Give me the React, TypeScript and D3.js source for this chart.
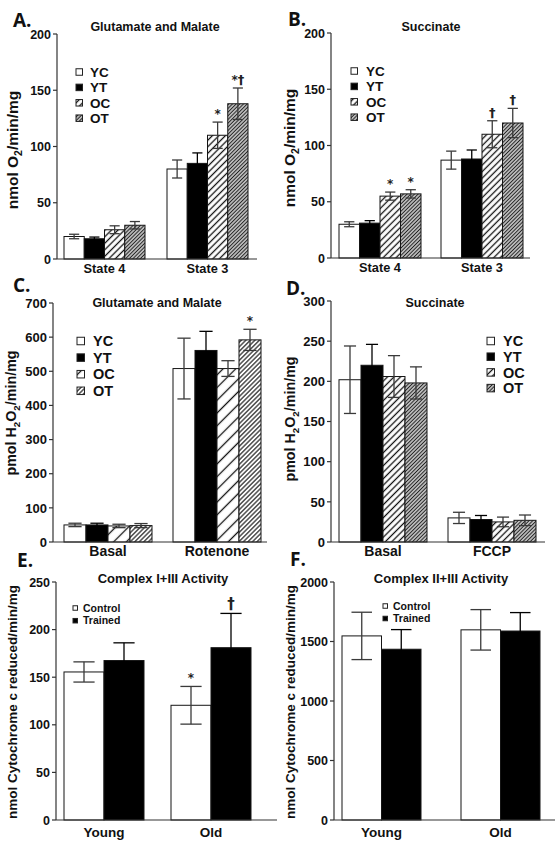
import React from "react";
import * as d3 from "d3";

// ---------- data ----------
const seriesFour = ["YC", "YT", "OC", "OT"];
const seriesTwo = ["Control", "Trained"];

const aGroups = ["State 4", "State 3"];
const aMean = [[20, 18, 26, 30], [80, 85, 110, 138]];
const aErr = [[2, 1.5, 3.5, 3.3], [8, 9.3, 11.7, 14]];
const aMarks = [["", "", "", ""], ["", "", "*", "*†"]];

const bGroups = ["State 4", "State 3"];
const bMean = [[30, 31, 55, 57], [87, 88, 110, 120]];
const bErr = [[2.2, 2.2, 3.6, 3.7], [8, 8, 12, 13]];
const bMarks = [["", "", "*", "*"], ["", "", "†", "†"]];

const cGroups = ["Basal", "Rotenone"];
const cMean = [[50, 50, 47, 48], [508, 561, 508, 592]];
const cErr = [[5, 5, 5, 6], [89, 56, 23, 31]];
const cMarks = [["", "", "", ""], ["", "", "", "*"]];

const dGroups = ["Basal", "FCCP"];
const dMean = [[202, 220, 206, 198], [30, 28, 25, 27]];
const dErr = [[42, 26, 26, 20], [7, 5, 6, 6.6]];
const dMarks = [["", "", "", ""], ["", "", "", ""]];

const eGroups = ["Young", "Old"];
const eMean = [[155.5, 167.5], [120.5, 181]];
const eErr = [[10.6, 18.6], [19.8, 36]];
const eMarks = [["", ""], ["*", "†"]];

const fGroups = ["Young", "Old"];
const fMean = [[1547, 1435], [1598, 1588]];
const fErr = [[199, 165], [170, 155]];
const fMarks = [["", ""], ["", ""]];

const yTicksA = [0, 50, 100, 150, 200];
const yTicksC = [0, 100, 200, 300, 400, 500, 600, 700];
const yTicksD = [0, 50, 100, 150, 200, 250, 300];
const yTicksE = [0, 50, 100, 150, 200, 250];
const yTicksF = [0, 500, 1000, 1500, 2000];

type Seg = [string, boolean];
const labelO2: Seg[] = [["nmol O", false], ["2", true], ["/min/mg", false]];
const labelH2O2: Seg[] = [["pmol H", false], ["2", true], ["O", false], ["2", true], ["/min/mg", false]];
const labelCyt: Seg[] = [["nmol Cytochrome c reduced/min/mg", false]];

const fillsFour = ["#ffffff", "#000000", "url(#pOC)", "url(#pOT)"];
const fillsFourC = ["#ffffff", "#000000", "url(#pOCw)", "url(#pOTc)"];
const fillsTwo = ["#ffffff", "#000000"];

const FONT = "'Liberation Sans', Arial, Helvetica, sans-serif";

type Panel = {
  letter: string; lx: number; ly: number;
  title: string; tx: number; ty: number; tSize: number;
  yLabel: Seg[]; ylx: number; yly: number; ylSize: number;
  axisX: number; xEnd: number; y0: number; yTop: number; yMax: number; ticks: number[]; tickSize: number;
  band: [number, number]; groupW: number; groups: string[]; series: string[];
  mean: number[][]; err: number[][]; marks: string[][]; fills: string[];
  gDy: number; gSize: number; markSize: number;
  leg: { x: number; y: number; dy: number; size: number; tx: number; fs: number };
  capFrac: number;
};

const panels: Panel[] = [
  {
    letter: "A.", lx: 13, ly: 27, title: "Glutamate and Malate", tx: 155, ty: 31, tSize: 12.5,
    yLabel: labelO2, ylx: 18, yly: 150, ylSize: 15.5,
    axisX: 57, xEnd: 257, y0: 259, yTop: 34, yMax: 200, ticks: yTicksA, tickSize: 12.5,
    band: [64, 248], groupW: 81, groups: aGroups, series: seriesFour, mean: aMean, err: aErr, marks: aMarks, fills: fillsFour,
    gDy: 13.5, gSize: 12.8, markSize: 13, leg: { x: 76, y: 72, dy: 15.4, size: 6.5, tx: 90, fs: 13.5 }, capFrac: 0.5,
  },
  {
    letter: "B.", lx: 288, ly: 26, title: "Succinate", tx: 431, ty: 30.5, tSize: 12.5,
    yLabel: labelO2, ylx: 295, yly: 148, ylSize: 15.5,
    axisX: 331, xEnd: 530, y0: 258, yTop: 33, yMax: 200, ticks: yTicksA, tickSize: 12.5,
    band: [339, 523], groupW: 82, groups: bGroups, series: seriesFour, mean: bMean, err: bErr, marks: bMarks, fills: fillsFour,
    gDy: 13.5, gSize: 12.8, markSize: 13, leg: { x: 351, y: 71, dy: 15.4, size: 6.5, tx: 366, fs: 13.5 }, capFrac: 0.5,
  },
  {
    letter: "C.", lx: 13, ly: 292, title: "Glutamate and Malate", tx: 157, ty: 307, tSize: 12.5,
    yLabel: labelH2O2, ylx: 16, yly: 413, ylSize: 14.3,
    axisX: 53, xEnd: 267, y0: 542, yTop: 303, yMax: 700, ticks: yTicksC, tickSize: 13,
    band: [64, 261], groupW: 88, groups: cGroups, series: seriesFour, mean: cMean, err: cErr, marks: cMarks, fills: fillsFourC,
    gDy: 13.5, gSize: 14, markSize: 12, leg: { x: 77, y: 341, dy: 16.6, size: 7.5, tx: 93, fs: 14.5 }, capFrac: 0.6,
  },
  {
    letter: "D.", lx: 286, ly: 295, title: "Succinate", tx: 435, ty: 307, tSize: 12.5,
    yLabel: labelH2O2, ylx: 295, yly: 419, ylSize: 14.3,
    axisX: 331, xEnd: 545, y0: 542, yTop: 301, yMax: 300, ticks: yTicksD, tickSize: 13,
    band: [339, 536], groupW: 88, groups: dGroups, series: seriesFour, mean: dMean, err: dErr, marks: dMarks, fills: fillsFour,
    gDy: 13.5, gSize: 14, markSize: 12, leg: { x: 487, y: 341, dy: 15.7, size: 7.5, tx: 503, fs: 14.5 }, capFrac: 0.55,
  },
  {
    letter: "E.", lx: 17, ly: 567, title: "Complex I+III Activity", tx: 163, ty: 583, tSize: 13,
    yLabel: labelCyt, ylx: 17, yly: 702, ylSize: 13.5,
    axisX: 56, xEnd: 277, y0: 820, yTop: 582, yMax: 250, ticks: yTicksE, tickSize: 12.5,
    band: [64, 251], groupW: 80, groups: eGroups, series: seriesTwo, mean: eMean, err: eErr, marks: eMarks, fills: fillsTwo,
    gDy: 17, gSize: 13.5, markSize: 15, leg: { x: 73, y: 608, dy: 12.7, size: 4.5, tx: 83, fs: 10.5 }, capFrac: 0.53,
  },
  {
    letter: "F.", lx: 290, ly: 566, title: "Complex II+III Activity", tx: 441, ty: 583, tSize: 13,
    yLabel: labelCyt, ylx: 295, yly: 702, ylSize: 13.5,
    axisX: 334, xEnd: 555, y0: 820, yTop: 582, yMax: 2000, ticks: yTicksF, tickSize: 12.5,
    band: [342, 540], groupW: 79, groups: fGroups, series: seriesTwo, mean: fMean, err: fErr, marks: fMarks, fills: fillsTwo,
    gDy: 17, gSize: 13.5, markSize: 13, leg: { x: 383, y: 606, dy: 12.5, size: 4.5, tx: 393, fs: 10.5 }, capFrac: 0.52,
  },
];

function YLabel({ p }: { p: Panel }) {
  const shift = p.ylSize * 0.28;
  let prevSub = false;
  return (
    <text
      transform={`translate(${p.ylx},${p.yly}) rotate(-90)`}
      textAnchor="middle"
      dy="0.36em"
      fontWeight={700}
      fontSize={p.ylSize}
      fill="#111"
    >
      {p.yLabel.map(([t, sub], i) => {
        let dy = 0;
        if (sub && !prevSub) dy = shift;
        if (!sub && prevSub) dy = -shift;
        prevSub = sub;
        return (
          <tspan key={i} dy={dy} fontSize={sub ? p.ylSize * 0.68 : p.ylSize}>
            {t}
          </tspan>
        );
      })}
    </text>
  );
}

function PanelView({ p }: { p: Panel }) {
  const y = d3.scaleLinear().domain([0, p.yMax]).range([p.y0, p.yTop]);
  const step = (p.band[1] - p.band[0] - p.groupW) / (p.groups.length - 1);
  const xg = d3.scaleBand<string>().domain(p.groups).range(p.band)
    .paddingInner(1 - p.groupW / step).paddingOuter(0);
  const xs = d3.scaleBand<string>().domain(p.series).range([0, xg.bandwidth()]).padding(0);
  const bw = xs.bandwidth();
  const cap = bw * p.capFrac;
  const cxOf = (g: string, s: string) => (xg(g) as number) + (xs(s) as number) + bw / 2;
  return (
    <g fontFamily={FONT}>
      <text x={p.lx} y={p.ly} fontFamily="'Open Sans', sans-serif" fontWeight={700} fontSize={19} fill="#111">
        {p.letter}
      </text>
      <text x={p.tx} y={p.ty} textAnchor="middle" fontWeight={700} fontSize={p.tSize} fill="#111">
        {p.title}
      </text>
      <YLabel p={p} />

      {/* bars */}
      {p.groups.map((g, gi) =>
        p.series.map((s, si) => {
          const m = p.mean[gi][si];
          return (
            <rect
              key={`b${gi}-${si}`}
              x={(xg(g) as number) + (xs(s) as number)}
              y={y(m)}
              width={bw}
              height={p.y0 - y(m)}
              fill={p.fills[si]}
              stroke="#151515"
              strokeWidth={1}
            />
          );
        })
      )}

      {/* error bars */}
      {p.groups.map((g, gi) =>
        p.series.map((s, si) => {
          const m = p.mean[gi][si];
          const e = p.err[gi][si];
          const cx = cxOf(g, s);
          const col = p.fills[si] === "#000000" ? "#000" : "#3a3a3a";
          return (
            <g key={`e${gi}-${si}`} stroke={col} strokeWidth={1.3}>
              <line x1={cx} x2={cx} y1={y(m + e)} y2={y(m - e)} />
              <line x1={cx - cap / 2} x2={cx + cap / 2} y1={y(m + e)} y2={y(m + e)} />
              <line x1={cx - cap / 2} x2={cx + cap / 2} y1={y(m - e)} y2={y(m - e)} />
            </g>
          );
        })
      )}

      {/* significance marks */}
      {p.groups.map((g, gi) =>
        p.series.map((s, si) => {
          const t = p.marks[gi][si];
          if (!t) return null;
          const m = p.mean[gi][si];
          const e = p.err[gi][si];
          return (
            <text
              key={`m${gi}-${si}`}
              x={cxOf(g, s)}
              y={y(m + e) - 4}
              textAnchor="middle"
              fontFamily="'DejaVu Sans', sans-serif"
              fontWeight={700}
              fontSize={p.markSize}
              fill="#222"
            >
              {t.split("").map((ch, k) => (
                <tspan key={k} fontSize={ch === "*" ? Math.min(p.markSize, 12) : p.markSize}>
                  {ch}
                </tspan>
              ))}
            </text>
          );
        })
      )}

      {/* axes */}
      <line x1={p.axisX} x2={p.axisX} y1={p.y0} y2={p.yTop} stroke="#333" strokeWidth={1.2} />
      <line x1={p.axisX} x2={p.xEnd} y1={p.y0} y2={p.y0} stroke="#333" strokeWidth={1.2} />
      {p.ticks.map((t) => (
        <g key={`t${t}`}>
          <line x1={p.axisX - 4} x2={p.axisX} y1={y(t)} y2={y(t)} stroke="#333" strokeWidth={1.2} />
          <text
            x={p.axisX - 6}
            y={y(t)}
            dy="0.36em"
            textAnchor="end"
            fontWeight={700}
            fontSize={p.tickSize}
            fill="#111"
          >
            {t}
          </text>
        </g>
      ))}
      {p.groups.map((g) => (
        <text
          key={`g${g}`}
          x={(xg(g) as number) + xg.bandwidth() / 2}
          y={p.y0 + p.gDy}
          textAnchor="middle"
          fontWeight={700}
          fontSize={p.gSize}
          fill="#111"
        >
          {g}
        </text>
      ))}

      {/* legend */}
      {p.series.map((s, si) => {
        const cy = p.leg.y + si * p.leg.dy;
        return (
          <g key={`l${s}`}>
            <rect
              x={p.leg.x}
              y={cy - p.leg.size / 2}
              width={p.leg.size}
              height={p.leg.size}
              fill={p.fills[si]}
              stroke="#222"
              strokeWidth={1}
            />
            <text x={p.leg.tx} y={cy} dy="0.36em" fontWeight={700} fontSize={p.leg.fs} fill="#111">
              {s}
            </text>
          </g>
        );
      })}
    </g>
  );
}

export default function App() {
  return (
    <div style={{ position: "absolute", left: 0, top: 0 }}>
      <svg width={558} height={848} style={{ display: "block", background: "#fff" }}>
        <defs>
          <pattern id="pOC" width={4.6} height={4.6} patternUnits="userSpaceOnUse" patternTransform="rotate(45)">
            <rect width={4.6} height={4.6} fill="#fff" />
            <line x1={2.3} y1={0} x2={2.3} y2={4.6} stroke="#111" strokeWidth={1.3} />
          </pattern>
          <pattern id="pOT" width={2.6} height={2.6} patternUnits="userSpaceOnUse" patternTransform="rotate(45)">
            <rect width={2.6} height={2.6} fill="#c4c4c4" />
            <line x1={1.3} y1={0} x2={1.3} y2={2.6} stroke="#222" strokeWidth={1} />
          </pattern>
          <pattern id="pOCw" width={9} height={9} patternUnits="userSpaceOnUse" patternTransform="rotate(45)">
            <rect width={9} height={9} fill="#fff" />
            <line x1={4.5} y1={0} x2={4.5} y2={9} stroke="#111" strokeWidth={1.3} />
          </pattern>
          <pattern id="pOTc" width={3.2} height={3.2} patternUnits="userSpaceOnUse" patternTransform="rotate(45)">
            <rect width={3.2} height={3.2} fill="#fff" />
            <line x1={1.6} y1={0} x2={1.6} y2={3.2} stroke="#333" strokeWidth={1.3} />
          </pattern>
        </defs>
        {panels.map((p) => (
          <PanelView key={p.letter} p={p} />
        ))}
      </svg>
    </div>
  );
}
